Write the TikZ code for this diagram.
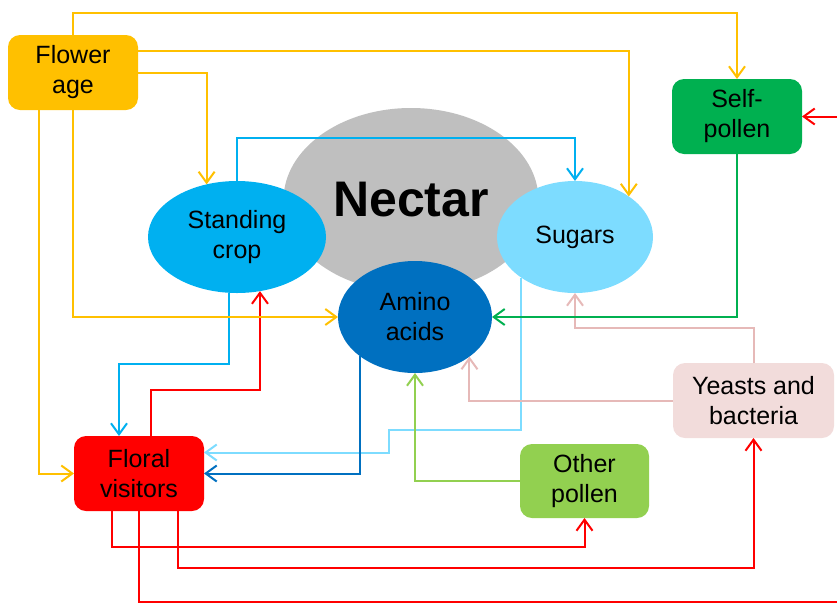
\documentclass[tikz,border=0pt]{standalone}
\usepackage{fontspec}
\setmainfont{Liberation Sans}
\usetikzlibrary{shapes.geometric,arrows.meta,positioning}

\definecolor{agecol}{HTML}{FFC000}
\definecolor{selfcol}{HTML}{00B050}
\definecolor{cropcol}{HTML}{00B0F0}
\definecolor{sugcol}{HTML}{7DDCFF}
\definecolor{aminocol}{HTML}{0070C0}
\definecolor{flocol}{HTML}{FF0000}
\definecolor{othercol}{HTML}{92D050}
\definecolor{yeastcol}{HTML}{F2DCDB}
\definecolor{yeastline}{HTML}{E6B9B8}
\definecolor{nectcol}{HTML}{BFBFBF}

\begin{document}
\begin{tikzpicture}[x=1pt,y=-1pt]
        % Define styles
        \tikzstyle{box} = [rectangle, rounded corners=12pt, minimum width=130pt,
            minimum height=75pt, align=center, inner sep=0pt, outer sep=0pt,
            font=\fontsize{25}{30}\selectfont]
        \tikzstyle{bubble} = [ellipse, align=center, inner sep=0pt, outer sep=0pt,
            font=\fontsize{25}{30}\selectfont]
        \tikzstyle{arrow} = [line width=2pt, -{Straight Barb[length=11pt,width=16pt]}]

        \useasboundingbox (0,0) rectangle (837,606);
        \clip (0,0) rectangle (837,606);

        % Nodes
        \node [bubble, fill=nectcol, minimum width=255pt, minimum height=184pt,
            font=\fontsize{50}{60}\selectfont\bfseries] (nectar) at (411,200) {Nectar};
        \node [bubble, fill=cropcol, minimum width=178pt, minimum height=112pt] (crop) at (237,237) {Standing\\crop};
        \node [bubble, fill=sugcol, minimum width=156pt, minimum height=112pt] (sug) at (575,237) {Sugars};
        \node [bubble, fill=aminocol, minimum width=154pt, minimum height=112pt] (amino) at (415,317) {Amino\\acids};
        \node [box, fill=agecol] (age) at (73,72.5) {Flower\\age};
        \node [box, fill=selfcol] (self) at (737,116.5) {Self-\\pollen};
        \node [box, fill=flocol] (flo) at (139,473.5) {Floral\\visitors};
        \node [box, fill=othercol, minimum width=129pt, minimum height=74pt] (other) at (584.5,481) {Other\\pollen};
        \node [box, fill=yeastcol, minimum width=161pt] (yeast) at (753.5,400.5) {Yeasts and\\bacteria};

        % Arrows
        \draw [arrow, sugcol] (sug.-143) -- ++(0,152) -- ++(-132,0) |- ([yshift=21pt]flo.east);
        \draw [arrow, cropcol] (crop.north) -- ++(0,-43) -| (sug.north);
        \draw [arrow, cropcol] (crop.262) -- ++(0,71) -| ([xshift=-20pt]flo.north);
        \draw [arrow, flocol] ([xshift=12pt]flo.north) -- ++(0,-46) -| (crop.-67);
        \draw [arrow, aminocol] (amino.-145) |- (flo.east);
        \draw [arrow, othercol] (other.west) -| (amino.south);
        \draw [arrow, yeastline] (yeast.north) -- ++(0,-35) -| (sug.south);
        \draw [arrow, yeastline] (yeast.west) -| (amino.-36);
        \draw [arrow, selfcol] (self.south) |- (amino.east);
        \draw [arrow, flocol] ([xshift=-27pt]flo.south) -- ++(0,36) -| (other.south);
        \draw [arrow, flocol] ([xshift=39pt]flo.south) -- ++(0,57) -| (yeast.south);
        \draw [arrow, flocol] (flo.south) -- ++(0,91) -- ++(712,0) |- (self.east);
        \draw [arrow, agecol] (age.north) -- ++(0,-22) -| (self.north);
        \draw [arrow, agecol] ([yshift=21.5pt]age.east) -| (sug.37);
        \draw [arrow, agecol] (age.east) -| (crop.120);
        \draw [arrow, agecol] (age.south) |- (amino.west);
        \draw [arrow, agecol] ([xshift=-34pt]age.south) |- (flo.west);

\end{tikzpicture}
\end{document}
